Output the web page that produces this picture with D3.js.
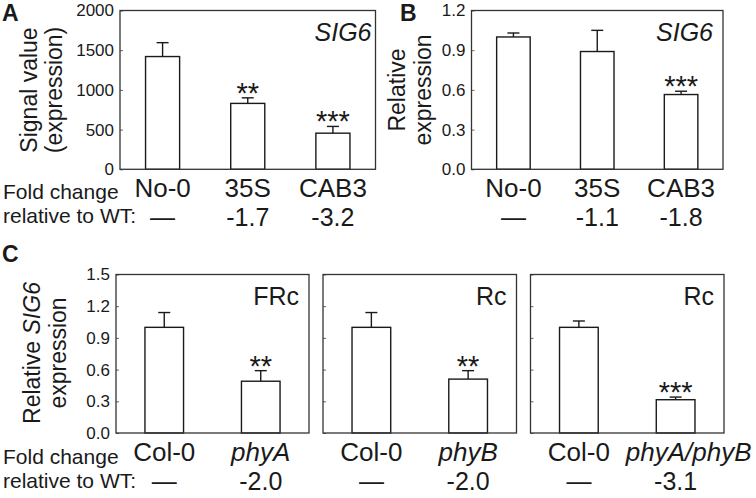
<!DOCTYPE html>
<html>
<head>
<meta charset="utf-8">
<script src="https://cdn.jsdelivr.net/npm/d3@7"></script>
<style>
  body { margin: 0; background: #fff; }
  svg { display: block; }
</style>
</head>
<body>
<svg id="chart" width="756" height="498"></svg>
<script>
// ---- data ----
const aCategories = ['No-0', '35S', 'CAB3'];
const aValues = [1420, 830, 455];
const aErrors = [175, 70, 85];
const aStars = ['', '**', '***'];
const aFold = ['\u2014', '-1.7', '-3.2'];
const aTicks = [0, 500, 1000, 1500, 2000];

const bCategories = ['No-0', '35S', 'CAB3'];
const bValues = [1.0, 0.89, 0.565];
const bErrors = [0.03, 0.16, 0.025];
const bStars = ['', '', '***'];
const bFold = ['\u2014', '-1.1', '-1.8'];
const bTicks = [0, 0.3, 0.6, 0.9, 1.2];

const cTicks = [0, 0.3, 0.6, 0.9, 1.2, 1.5];
const c1Categories = ['Col-0', 'phyA'];
const c1Values = [1.0, 0.49];
const c1Errors = [0.14, 0.10];
const c1Stars = ['', '**'];
const c1Fold = ['\u2014', '-2.0'];

const c2Categories = ['Col-0', 'phyB'];
const c2Values = [1.0, 0.51];
const c2Errors = [0.14, 0.08];
const c2Stars = ['', '**'];
const c2Fold = ['\u2014', '-2.0'];

const c3Categories = ['Col-0', 'phyA/phyB'];
const c3Values = [1.0, 0.315];
const c3Errors = [0.06, 0.025];
const c3Stars = ['', '***'];
const c3Fold = ['\u2014', '-3.1'];

const FONT = '"Liberation Sans", Arial, Helvetica, sans-serif';
const INK = '#1a1a1a';

const svg = d3.select('#chart').attr('font-family', FONT);

function drawPanel(p) {
  const x = d3.scaleBand()
    .domain(p.categories)
    .range([p.left, p.right])
    .paddingInner(0.6)
    .paddingOuter(0.3);
  const y = d3.scaleLinear()
    .domain([p.ticks[0], p.ticks[p.ticks.length - 1]])
    .range([p.bottom, p.top]);

  const g = svg.append('g');

  // 左侧刻度（朝内）
  g.append('g')
    .attr('transform', `translate(${p.left},0)`)
    .call(d3.axisLeft(y)
      .tickValues(p.ticks)
      .tickSizeInner(-3)
      .tickSizeOuter(0)
      .tickPadding(6)
      .tickFormat(p.showTickLabels ? p.format : () => ''))
    .call((a) => a.select('.domain').remove())
    .call((a) => a.attr('font-family', FONT).attr('font-size', 17))
    .call((a) => a.selectAll('line').attr('stroke', '#666'))
    .call((a) => a.selectAll('text').attr('fill', INK));

  // 柱子
  g.selectAll('rect.bar')
    .data(p.values)
    .join('rect')
    .attr('class', 'bar')
    .attr('x', (d, i) => x(p.categories[i]))
    .attr('y', (d) => y(d))
    .attr('width', x.bandwidth())
    .attr('height', (d) => y(0) - y(d))
    .attr('fill', '#fff')
    .attr('stroke', INK)
    .attr('stroke-width', 1.4);

  // 误差线（只向上）
  p.values.forEach((v, i) => {
    const cx = x(p.categories[i]) + x.bandwidth() / 2;
    const top = y(v + p.errors[i]);
    g.append('line')
      .attr('x1', cx).attr('x2', cx)
      .attr('y1', y(v)).attr('y2', top)
      .attr('stroke', INK).attr('stroke-width', 1.4);
    g.append('line')
      .attr('x1', cx - 6).attr('x2', cx + 6)
      .attr('y1', top).attr('y2', top)
      .attr('stroke', INK).attr('stroke-width', 1.4);
    if (p.stars[i]) {
      g.append('text')
        .attr('x', cx)
        .attr('y', top + 5)
        .attr('text-anchor', 'middle')
        .attr('font-size', 29)
        .attr('fill', INK)
        .text(p.stars[i]);
    }
  });

  // 外框
  g.append('rect')
    .attr('x', p.left)
    .attr('y', p.top)
    .attr('width', p.right - p.left)
    .attr('height', p.bottom - p.top)
    .attr('fill', 'none')
    .attr('stroke', '#333')
    .attr('stroke-width', 1.3);

  // 框内标签
  const tag = g.append('text')
    .attr('x', p.right - p.tagPad)
    .attr('y', p.top + 30)
    .attr('text-anchor', 'end')
    .attr('font-size', 25)
    .attr('fill', INK)
    .text(p.tag);
  if (p.tagItalic) tag.attr('font-style', 'italic');

  // 类别标签和倍数变化
  p.categories.forEach((c, i) => {
    const cx = x(c) + x.bandwidth() / 2 + (p.labelShift ? p.labelShift[i] : 0);
    g.append('text')
      .attr('x', cx)
      .attr('y', p.labelY)
      .attr('text-anchor', 'middle')
      .attr('font-size', 26)
      .attr('font-style', p.italic[i] ? 'italic' : 'normal')
      .attr('fill', INK)
      .text(c);
    g.append('text')
      .attr('x', x(c) + x.bandwidth() / 2)
      .attr('y', p.foldY)
      .attr('text-anchor', 'middle')
      .attr('font-size', 25)
      .attr('fill', INK)
      .text(p.fold[i]);
  });
}

drawPanel({
  categories: aCategories, values: aValues, errors: aErrors, stars: aStars, fold: aFold,
  ticks: aTicks, format: d3.format('d'), showTickLabels: true,
  left: 120, right: 375.5, top: 10.5, bottom: 169.3,
  tag: 'SIG6', tagItalic: true, tagPad: 4,
  italic: [false, false, false], labelY: 197, foldY: 226
});

drawPanel({
  categories: bCategories, values: bValues, errors: bErrors, stars: bStars, fold: bFold,
  ticks: bTicks, format: d3.format('.1f'), showTickLabels: true,
  left: 471.5, right: 723, top: 10.5, bottom: 169.3,
  tag: 'SIG6', tagItalic: true, tagPad: 10,
  italic: [false, false, false], labelY: 197, foldY: 226
});

drawPanel({
  categories: c1Categories, values: c1Values, errors: c1Errors, stars: c1Stars, fold: c1Fold,
  ticks: cTicks, format: d3.format('.1f'), showTickLabels: true,
  left: 116, right: 309, top: 274.5, bottom: 433,
  tag: 'FRc', tagItalic: false, tagPad: 10,
  italic: [false, true], labelY: 461, foldY: 490
});

drawPanel({
  categories: c2Categories, values: c2Values, errors: c2Errors, stars: c2Stars, fold: c2Fold,
  ticks: cTicks, format: d3.format('.1f'), showTickLabels: false,
  left: 323, right: 516.5, top: 274.5, bottom: 433,
  tag: 'Rc', tagItalic: false, tagPad: 10,
  italic: [false, true], labelY: 461, foldY: 490
});

drawPanel({
  categories: c3Categories, values: c3Values, errors: c3Errors, stars: c3Stars, fold: c3Fold,
  ticks: cTicks, format: d3.format('.1f'), showTickLabels: false,
  left: 530.5, right: 724, top: 274.5, bottom: 433,
  tag: 'Rc', tagItalic: false, tagPad: 10,
  italic: [false, true], labelY: 461, foldY: 490, labelShift: [0, 13]
});

// 面板字母
[['A', 2, 21], ['B', 400, 21], ['C', 2, 262]].forEach(([t, lx, ly]) => {
  svg.append('text')
    .attr('x', lx).attr('y', ly)
    .attr('font-size', 23).attr('font-weight', 'bold')
    .attr('fill', INK)
    .text(t);
});

// y 轴标题
function yTitle(lines, cy) {
  lines.forEach(([parts, bx]) => {
    const t = svg.append('text')
      .attr('transform', `translate(${bx},${cy}) rotate(-90)`)
      .attr('text-anchor', 'middle')
      .attr('font-size', 23)
      .attr('fill', INK);
    parts.forEach(([s, it]) => {
      t.append('tspan').attr('font-style', it ? 'italic' : 'normal').text(s);
    });
  });
}
yTitle([[[['Signal value', false]], 37], [[['(expression)', false]], 62]], 90);
yTitle([[[['Relative', false]], 405], [[['expression', false]], 431]], 90);
yTitle([[[['Relative ', false], ['SIG6', true]], 40], [[['expression', false]], 66]], 353);

// 倍数变化说明
[['Fold change', 199], ['relative to WT:', 223]].forEach(([t, ly]) => {
  svg.append('text').attr('x', 3).attr('y', ly)
    .attr('font-size', 21).attr('fill', INK).text(t);
});
[['Fold change', 464], ['relative to WT:', 488]].forEach(([t, ly]) => {
  svg.append('text').attr('x', 3).attr('y', ly)
    .attr('font-size', 21).attr('fill', INK).text(t);
});
</script>
</body>
</html>
